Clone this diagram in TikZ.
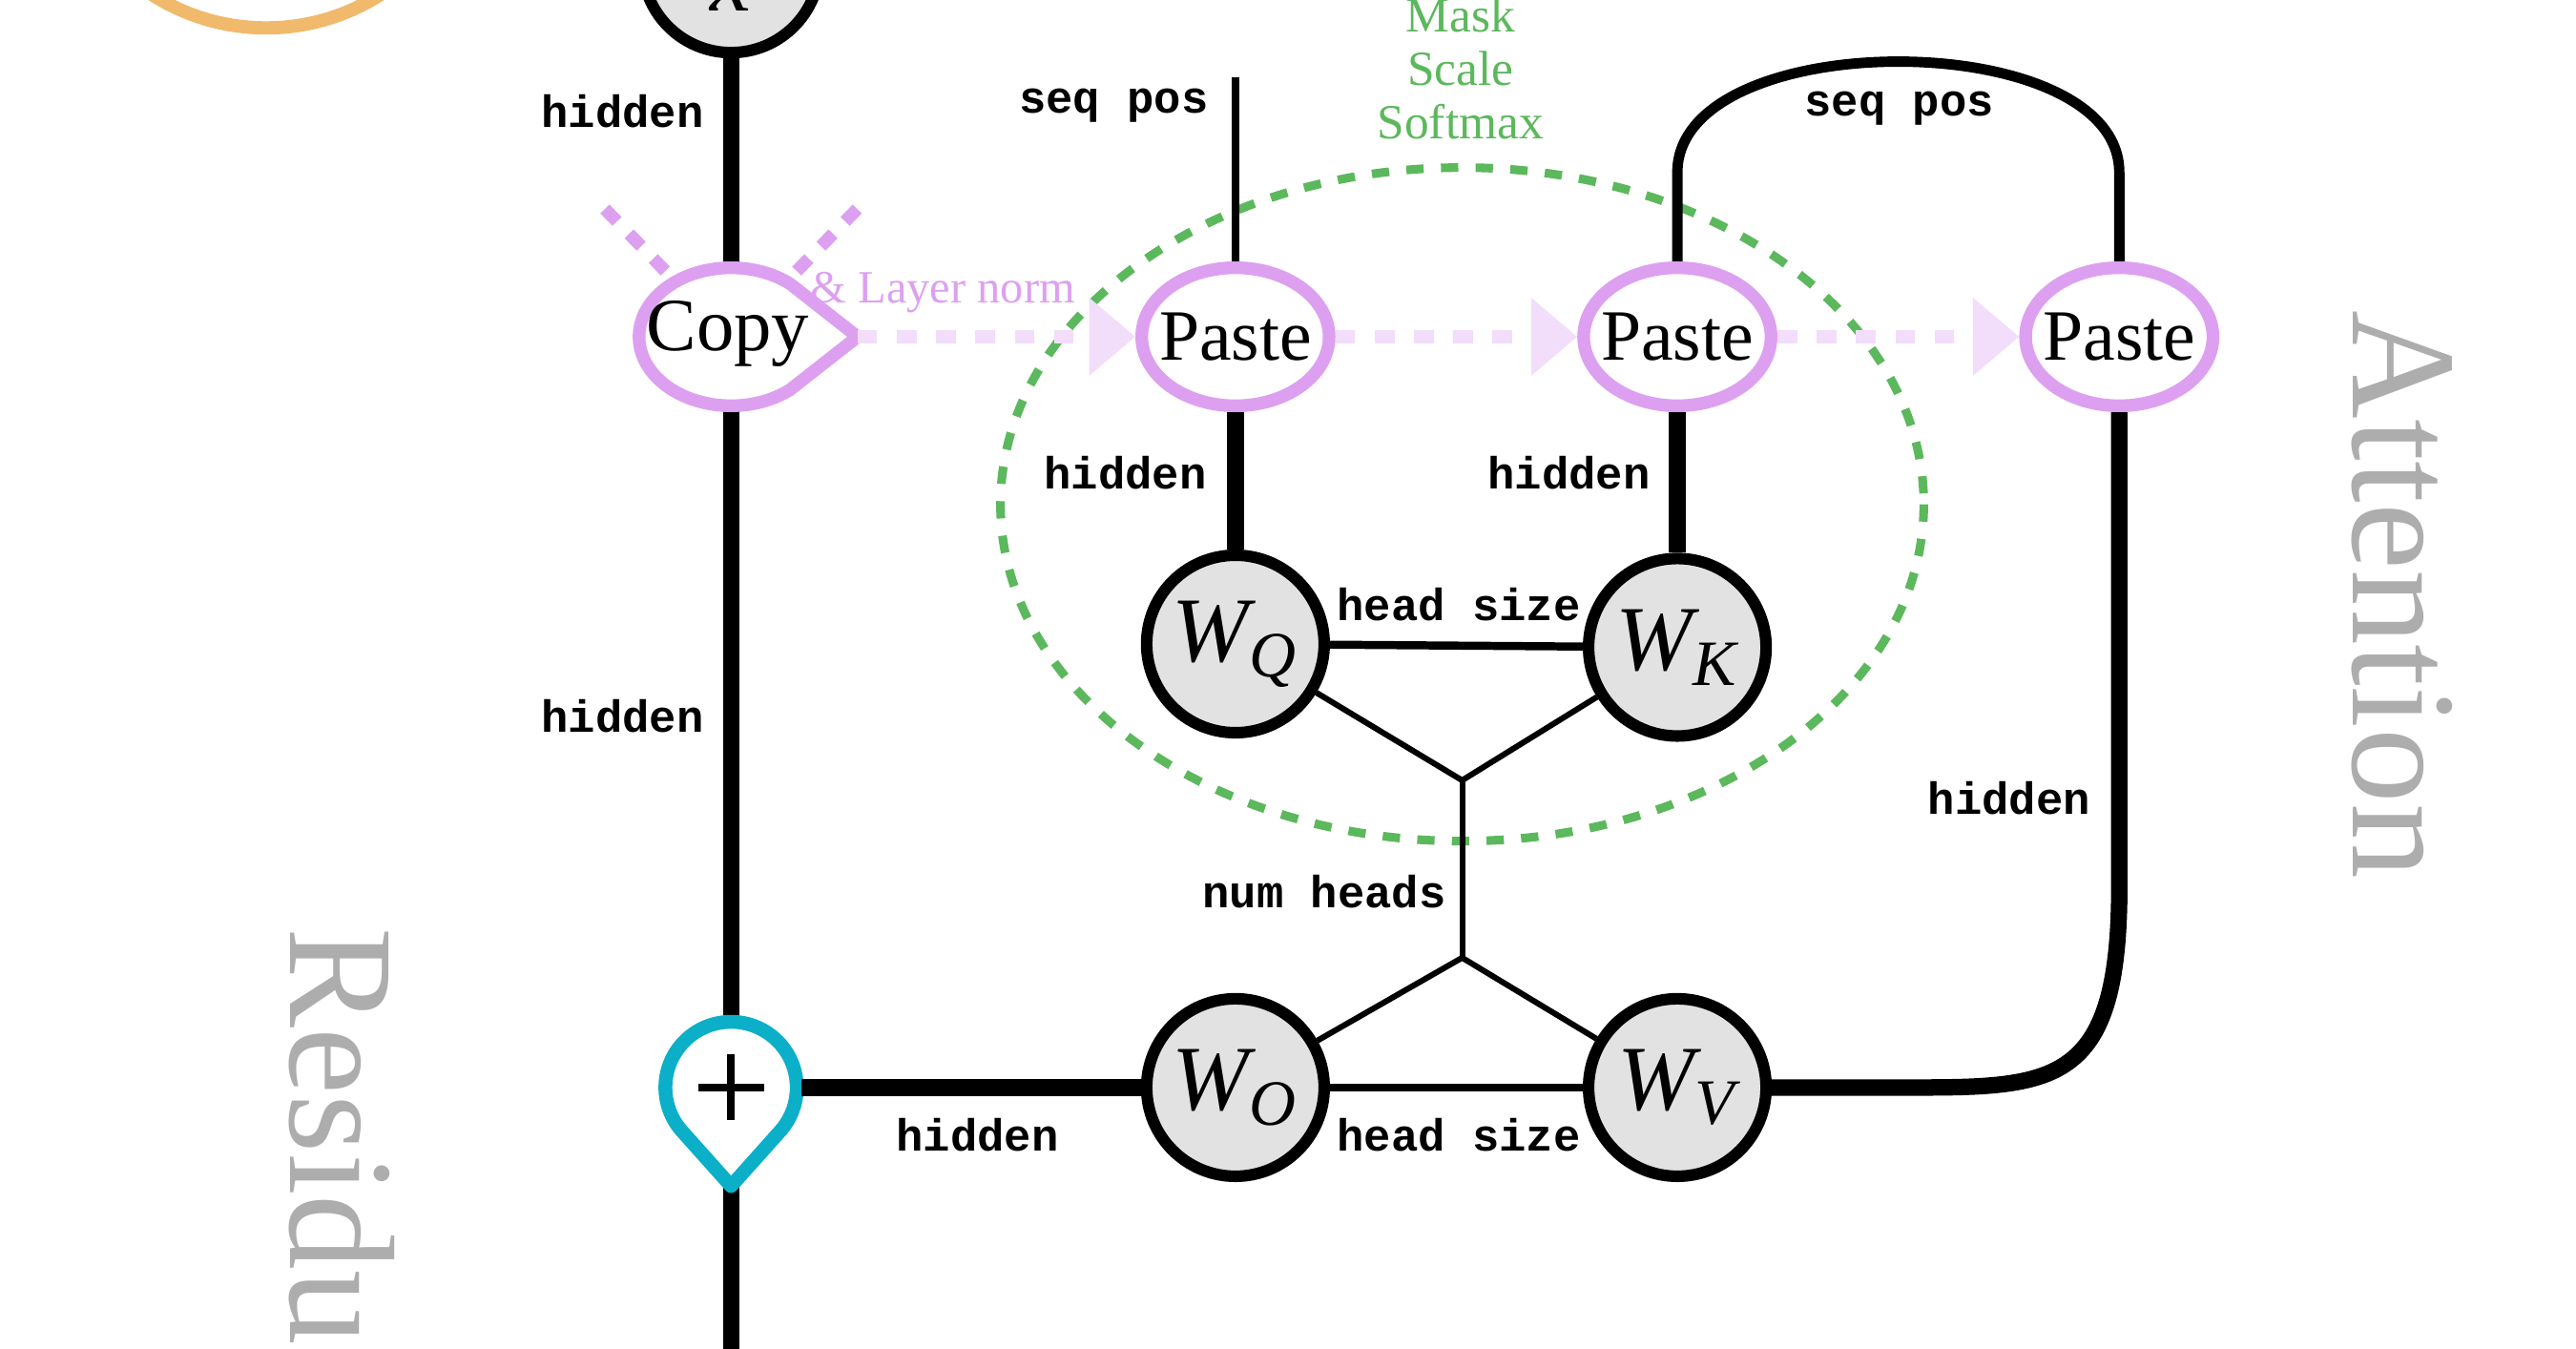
\documentclass[tikz,border=0pt]{standalone}
\usepackage{fontspec}
\setmainfont{Liberation Serif}
\setmonofont{Liberation Mono}
\usetikzlibrary{arrows.meta,shapes.geometric,calc}
\definecolor{violetline}{HTML}{DDA0F0}
\definecolor{violetpale}{HTML}{F2DDFA}
\definecolor{greenline}{HTML}{5CB85C}
\definecolor{cyanline}{HTML}{0BAFC8}
\definecolor{orangeline}{HTML}{F0B96B}
\definecolor{wfill}{HTML}{E2E2E2}
\tikzset{
  wnode/.style={circle,draw=black,fill=wfill,line width=2pt,minimum size=1.08cm,inner sep=0pt,font=\fontsize{16}{18}\selectfont\itshape},
  pastenode/.style={ellipse,draw=violetline,fill=white,line width=2.2pt,minimum width=1.14cm,minimum height=0.84cm,inner xsep=-6pt,inner ysep=0pt,font=\fontsize{12.5}{14}\selectfont},
  dimlabel/.style={font=\fontsize{7.8}{9}\selectfont\ttfamily\bfseries},
  thickwire/.style={line width=2.85pt},
  midwire/.style={line width=1.4pt},
  thinwire/.style={line width=1pt},
  passarrow/.style={draw=violetpale,line width=2.3pt,dash pattern=on 3.4pt off 3.4pt,-{Triangle[length=8pt,width=13pt,fill=violetpale]}},
  bigtitle/.style={text=black!32,font=\fontsize{26}{28}\selectfont,rotate=-90}
}
\begin{document}
\begin{tikzpicture}[line cap=butt,line join=round,x=0.01cm,y=-0.01cm]
\useasboundingbox (0,0) rectangle (1568,821);
\clip (0,0) rectangle (1568,821);
% titles
\node[bigtitle] (attn) at (1462,362) {Attention};
\node[bigtitle] (resid) at (208,725) {Residual};
\draw[orangeline,line width=2.3pt] (162,-112) circle (129);
% green block
\draw[greenline,line width=1.5pt,dash pattern=on 3pt off 3pt] (890,307) ellipse (281 and 205);
\node[text=greenline,font=\fontsize{8.5}{10}\selectfont] (mask) at (889,9) {Mask};
\node[text=greenline,font=\fontsize{8.5}{10}\selectfont] (scale) at (889,42) {Scale};
\node[text=greenline,font=\fontsize{8.5}{10}\selectfont] (softmax) at (889,74) {Softmax};
% nodes
\node[wnode] (x) at (445,-22) {};
\node[font=\fontsize{16}{18}\selectfont\itshape] (xtext) at (445,-6) {x};
\node[ellipse,minimum width=1.14cm,minimum height=0.84cm,inner sep=0pt] (copy) at (445,205) {};
\node[pastenode] (pasteq) at (752,205) {Paste};
\node[pastenode] (pastek) at (1021,205) {Paste};
\node[pastenode] (pastev) at (1290,205) {Paste};
\node[wnode] (wq) at (752,392) {W\textsubscript{Q}};
\node[wnode] (wk) at (1021,394) {W\textsubscript{K}};
\node[wnode] (wo) at (752,662) {W\textsubscript{O}};
\node[wnode] (wv) at (1021,662) {W\textsubscript{V}};
\node[circle,minimum size=0.84cm,inner sep=0pt] (plus) at (445,662) {};
\coordinate (jtop) at (890,475);
\coordinate (jbot) at (890,583);
\coordinate (seqtop) at (752,47);
\coordinate (tipcopy) at (522,205);
% copy and residual
\draw[violetline,line width=2.2pt,dash pattern=on 3pt off 3pt] (405,165) -- (368,127);
\draw[violetline,line width=2.2pt,dash pattern=on 3pt off 3pt] (485,165) -- (522,127);
\draw[thickwire] (x) -- (copy);
\draw[thickwire] (copy) -- (plus);
\draw[thickwire] (plus) -- (445,830);
\draw[violetline,fill=white,line width=2.2pt] (tipcopy) -- ($(445,205)+(50:56 and 42)$) arc[start angle=50,end angle=310,x radius=56,y radius=42] -- cycle;
\node[font=\fontsize{13}{15}\selectfont] at (443,203) {Copy};
\node[text=violetline,font=\fontsize{8}{10}\selectfont] (lnorm) at (574,178) {\& Layer norm};
\draw[cyanline,fill=white,line width=2.4pt] (445,722) -- ($(445,662)+(40:40)$) arc[start angle=40,end angle=-220,radius=40] -- cycle;
\draw[line width=1.3pt] (425,662) -- (465,662) (445,642) -- (445,682);
% passing arrows
\draw[passarrow] (tipcopy) -- (pasteq);
\draw[passarrow] (pasteq) -- (pastek);
\draw[passarrow] (pastek) -- (pastev);
% attention wires
\draw[midwire] (seqtop) -- (pasteq);
\draw[line width=1.8pt] (pastek.north) -- (1021,105) .. controls (1021,15) and (1290,15) .. (1290,105) -- (pastev.north);
\draw[thickwire] (pasteq) -- (wq);
\draw[thickwire] (pastek) -- (wk);
\draw[thickwire] (pastev) -- (1290,540) .. controls (1290,662) and (1250,662) .. (1160,662) -- (wv);
\draw[midwire] (wq) -- (wk);
\draw[midwire] (wo) -- (wv);
\draw[thinwire] (wq) -- (jtop) -- (wk);
\draw[thinwire] (jtop) -- (jbot);
\draw[thinwire] (wo) -- (jbot) -- (wv);
\draw[thickwire] (wo) -- (plus);
% labels
\node[dimlabel] at (379,68) {hidden};
\node[dimlabel] at (379,436) {hidden};
\node[dimlabel] at (685,288) {hidden};
\node[dimlabel] at (955,288) {hidden};
\node[dimlabel] at (1223,486) {hidden};
\node[dimlabel] at (595,691) {hidden};
\node[dimlabel] at (678,64) {seq pos};
\node[dimlabel] at (1156,66) {seq pos};
\node[dimlabel] at (888,368) {head size};
\node[dimlabel] at (888,691) {head size};
\node[dimlabel] at (806,543) {num heads};
\end{tikzpicture}
\end{document}
